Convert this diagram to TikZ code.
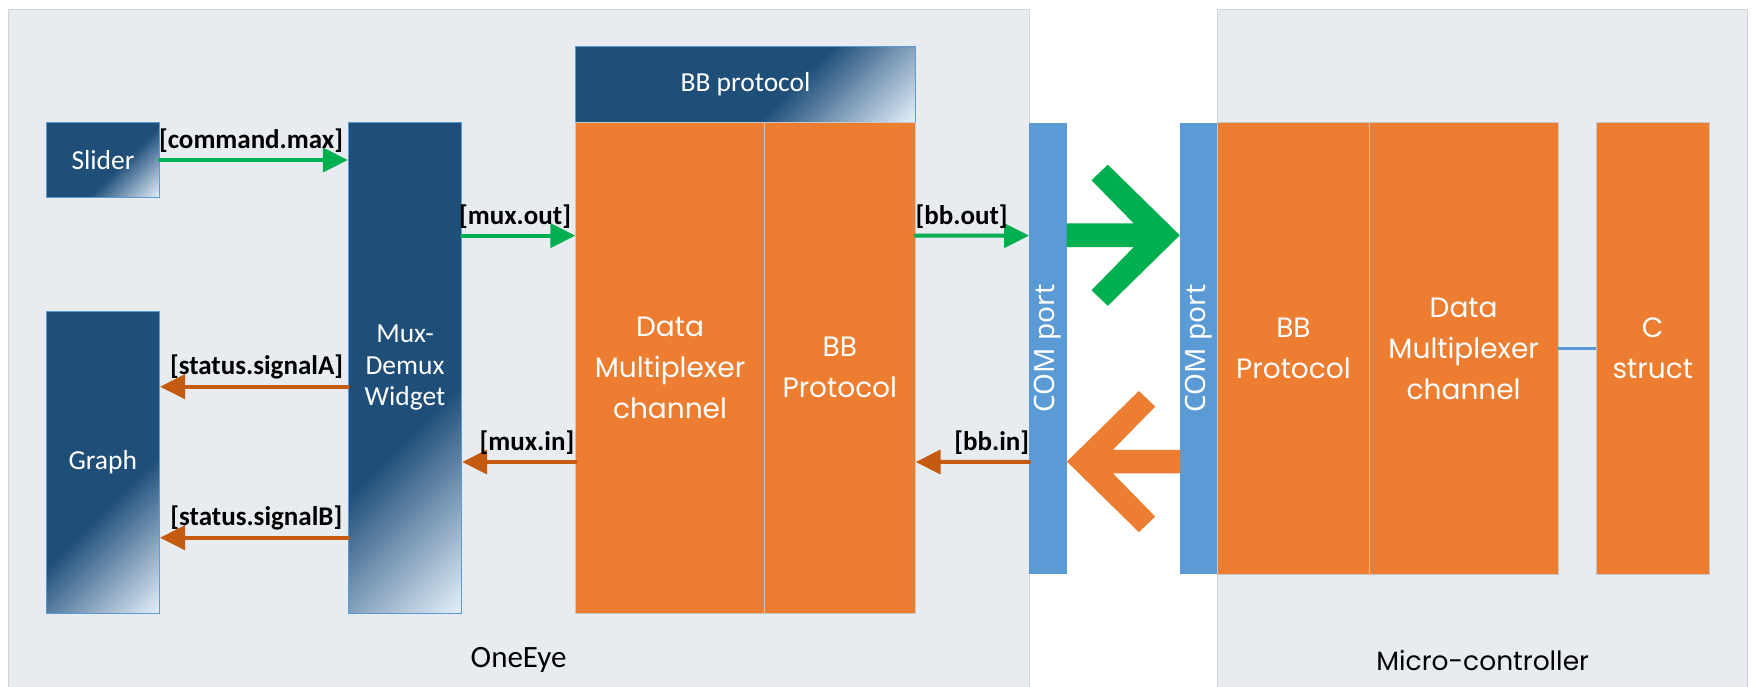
\documentclass[tikz,border=0pt]{standalone}
\usepackage{fontspec}
\setmainfont{Carlito}
\newfontfamily\wideface{Poppins}
\newfontfamily\portface{Noto Sans}
\usetikzlibrary{arrows.meta,calc}
\definecolor{navy}{HTML}{1F4E79}
\definecolor{paleblue}{HTML}{DEEBF7}
\definecolor{edgeblue}{HTML}{5B9BD5}
\definecolor{comblue}{HTML}{5B9BD5}
\definecolor{boxorange}{HTML}{ED7D31}
\definecolor{darkorange}{HTML}{C55A11}
\definecolor{flowgreen}{HTML}{00B050}
\definecolor{panelgray}{HTML}{E8EBEF}
\definecolor{paneledge}{HTML}{D2D5D9}
\pgfdeclareverticalshading{bluefade}{100bp}{color(0bp)=(paleblue); color(15bp)=(paleblue); color(28bp)=(navy); color(100bp)=(navy)}
\tikzset{
	panel/.style={draw=paneledge, fill=panelgray, line width=1pt, inner sep=0pt},
	bluebox/.style={draw=edgeblue, line width=0.8pt, inner sep=0pt, text=white, align=center,
		font=\fontsize{27.5}{31.7}\selectfont,
		path picture={\shade[shading=bluefade, shading angle=45]
			let \p1=($(path picture bounding box.north east)-(path picture bounding box.south west)$) in
			(path picture bounding box.south east) rectangle ++({-\x1-\y1},{\x1+\y1});}},
	orangebox/.style={fill=boxorange, draw=black!22, line width=0.8pt, inner sep=0pt, text=white, align=center,
		font=\wideface\fontsize{28}{41}\selectfont},
	comport/.style={fill=comblue, inner sep=0pt},
	porttext/.style={rotate=90, text=white, font=\portface\fontsize{28}{34}\selectfont},
	flowout/.style={draw=flowgreen, line width=4pt, line cap=round, -{Triangle[length=25pt,width=24pt]}},
	flowin/.style={draw=darkorange, line width=4pt, line cap=round, -{Triangle[length=25pt,width=24pt]}},
	tag/.style={font=\bfseries\fontsize{27}{30}\selectfont, inner sep=0pt, above=5.5pt}
}
\begin{document}
\begin{tikzpicture}[x=1pt, y=-1pt]
	\useasboundingbox (0,0) rectangle (1753,686);
	\node (OneEye) at (518.5,354.5) [panel, minimum width=1021pt, minimum height=691pt] {};
	\node (MicroCtrl) at (1482.3,354.5) [panel, minimum width=529.4pt, minimum height=691pt] {};
	\node (OneEyeTag) at (518.6,660) [font=\fontsize{31}{36}\selectfont] {OneEye};
	\node (MicroCtrlTag) at (1482.7,660.5) [font=\wideface\fontsize{26.5}{30}\selectfont] {Micro-controller};

	\node (Slider) at (103,160) [bluebox, minimum width=113.2pt, minimum height=75.4pt] {Slider};
	\node (Graph) at (102.8,462.2) [bluebox, minimum width=113.6pt, minimum height=302.3pt] {Graph};
	\node (MuxDemux) at (405,367.8) [bluebox, minimum width=113.6pt, minimum height=491pt] {Mux-\\Demux\\Widget};
	\node (BBHeader) at (745.5,84.5) [bluebox, minimum width=339.6pt, minimum height=75.6pt] {BB protocol};
	\node (DMC) at (670,367.8) [orangebox, minimum width=188.6pt, minimum height=491pt] {Data\\Multiplexer\\channel};
	\node (BBProt) at (839.8,367.8) [orangebox, minimum width=151pt, minimum height=491pt] {BB\\Protocol};

	\node (ComA) at (1048,348.45) [comport, minimum width=37.4pt, minimum height=451.9pt] {};
	\node (ComB) at (1198.65,348.45) [comport, minimum width=37.3pt, minimum height=451.9pt] {};
	\node (ComATag) at (ComA) [porttext] {COM port};
	\node (ComBTag) at (ComB) [porttext] {COM port};

	\node (McBB) at (1293.45,348.45) [orangebox, minimum width=151.7pt, minimum height=451.9pt] {BB\\Protocol};
	\node (McDMC) at (1463.65,348.45) [orangebox, minimum width=188.7pt, minimum height=451.9pt] {Data\\Multiplexer\\channel};
	\node (CStruct) at (1652.75,348.45) [orangebox, minimum width=113.5pt, minimum height=451.9pt] {C\\struct};

	\draw[flowout] (Slider.east) -- (Slider.east -| MuxDemux.west) node[tag, pos=0.485] {[command.max]};
	\draw[flowout] ($(MuxDemux.east)+(0,-132.2)$) -- ($(DMC.west)+(0,-132.2)$) node[tag, pos=0.467] {[mux.out]};
	\draw[flowout] ($(BBProt.east)+(0,-132.2)$) -- ($(ComA.west)+(0,-112.85)$) node[tag, pos=0.405] {[bb.out]};
	\draw[flowin] ($(MuxDemux.west)+(0,18.9)$) -- ($(Graph.east)+(0,-75.5)$) node[tag, pos=0.486] {[status.signalA]};
	\draw[flowin] ($(MuxDemux.west)+(0,169.9)$) -- ($(Graph.east)+(0,75.5)$) node[tag, pos=0.487] {[status.signalB]};
	\draw[flowin] ($(DMC.west)+(0,94.2)$) -- ($(MuxDemux.east)+(0,94.2)$) node[tag, pos=0.428] {[mux.in]};
	\draw[flowin] ($(ComA.west)+(0,113.5)$) -- ($(BBProt.east)+(0,94.2)$) node[tag, pos=0.33] {[bb.in]};
	\draw[edgeblue, line width=2.5pt] (McDMC.east) -- (CStruct.west);

	\begin{scope}[shift={($(ComB.west)+(0,-113.2)$)}]
		\fill[flowgreen] (-113.3,-11.8) -- (-46,-11.8) -- (-88.3,-55) -- (-72,-70.6) -- (0,0)
			-- (-72,70.6) -- (-88.3,55) -- (-46,11.8) -- (-113.3,11.8) -- cycle;
	\end{scope}
	\begin{scope}[shift={($(ComA.east)+(0,113.1)$)}]
		\fill[boxorange] (113.3,-11.8) -- (46,-11.8) -- (88.3,-55) -- (72,-70.6) -- (0,0)
			-- (72,70.6) -- (88.3,55) -- (46,11.8) -- (113.3,11.8) -- cycle;
	\end{scope}
\end{tikzpicture}
\end{document}
